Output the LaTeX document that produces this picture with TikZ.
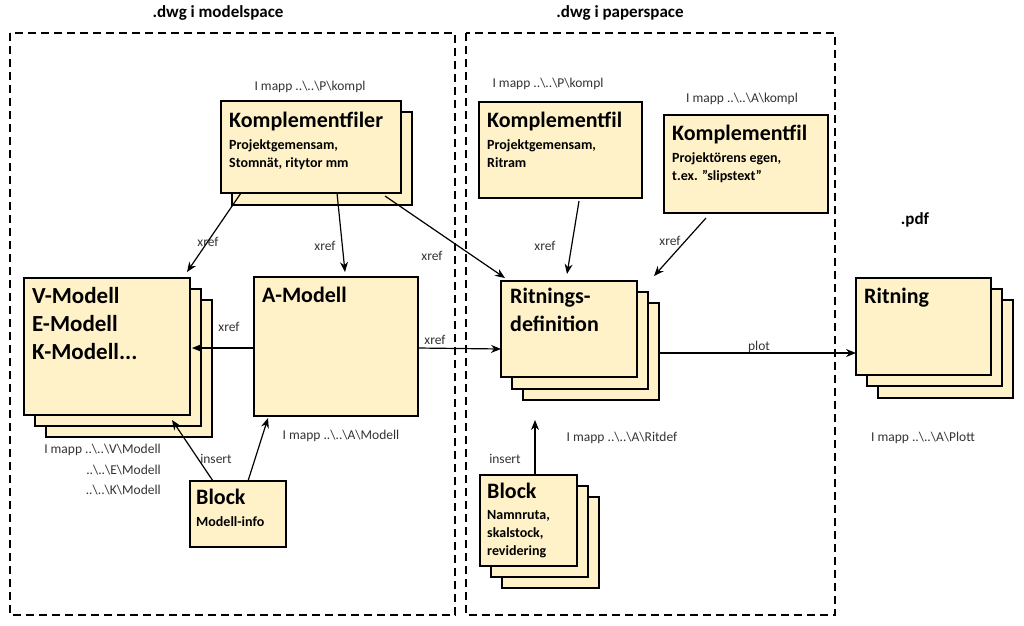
\documentclass[tikz,border=0pt]{standalone}
\usepackage{fontspec}
\setmainfont{Carlito}
\usetikzlibrary{arrows.meta}
\definecolor{fillc}{HTML}{FFF2C8}
\begin{document}
\begin{tikzpicture}[x=1pt,y=-1pt,
  box/.style={draw=black,line width=2pt,fill=fillc},
  frame/.style={draw=black,line width=1.8pt,dash pattern=on 8pt off 5pt},
  arr/.style={-{Stealth[length=10pt,width=8pt]},line width=1.2pt},
  lab/.style={font=\fontsize{13.5}{15}\selectfont,text=black!80},
  ttl/.style={font=\bfseries\fontsize{22}{26}\selectfont,anchor=north west,align=left,inner sep=0pt},
  sub/.style={font=\bfseries\fontsize{14}{18}\selectfont,anchor=north west,align=left,inner sep=0pt}]
\useasboundingbox (0,0) rectangle (1024,625);
\draw[frame] (10,33) rectangle (455,615);
\draw[frame] (466,33) rectangle (835,615);
\node[font=\bfseries\fontsize{17}{20}\selectfont] (t1) at (218,13) {.dwg i modelspace};
\node[font=\bfseries\fontsize{17}{20}\selectfont] (t2) at (620,13) {.dwg i paperspace};
\node[font=\bfseries\fontsize{17}{20}\selectfont] (t3) at (915,220) {.pdf};
% Komplementfiler
\draw[box] (232,112) rectangle (412,205);
\draw[box] (221,101) rectangle (401,193);
\coordinate (kfa) at (241,193); \coordinate (kfb) at (337,193); \coordinate (kfc) at (385,196);
\node[ttl] (kft) at (229,112) {Komplementfiler};
\node[sub] (kfs) at (229,139) {Projektgemensam,\\Stomnät, ritytor mm};
% V modell
\draw[box] (46,300) rectangle (212,437);
\draw[box] (35,289) rectangle (201,426);
\draw[box] (24,278) rectangle (190,415);
\node[ttl,font=\bfseries\fontsize{23}{28}\selectfont] (vm) at (32,287) {V-Modell\\E-Modell\\K-Modell...};
\coordinate (vtop) at (187,272); \coordinate (vr) at (192,348); \coordinate (vb) at (172,420);
% A modell
\draw[box] (254,277) rectangle (418,416);
\node[ttl] (am) at (262,287) {A-Modell};
\coordinate (al) at (254,348); \coordinate (ar) at (418,348); \coordinate (ab) at (268,418); \coordinate (atop) at (345,272);
% Ritningsdefinition
\draw[box] (523,303) rectangle (659,400);
\draw[box] (512,292) rectangle (648,389);
\draw[box] (501,281) rectangle (637,377);
\node[ttl,font=\bfseries\fontsize{22}{28}\selectfont] (rd) at (510,288) {Ritnings-\\definition};
\coordinate (rtop) at (505,278); \coordinate (rl) at (501,349); \coordinate (rt1) at (567,274); \coordinate (rt2) at (654,276); \coordinate (rr) at (659,353); \coordinate (rb) at (535,420);
% Komplementfil 1,2
\draw[box] (479,102) rectangle (642,198);
\node[ttl] (k1) at (487,112) {Komplementfil};
\node[sub] (k1s) at (487,139) {Projektgemensam,\\Ritram};
\coordinate (k1b) at (579,201);
\draw[box] (664,115) rectangle (828,213);
\node[ttl] (k2) at (672,125) {Komplementfil};
\node[sub] (k2s) at (672,152) {Projektörens egen,\\t.ex. ”slipstext”};
\coordinate (k2b) at (706,218);
% Ritning
\draw[box] (878,300) rectangle (1013,398);
\draw[box] (867,289) rectangle (1002,386);
\draw[box] (856,278) rectangle (991,375);
\node[ttl] (rn) at (864,288) {Ritning};
\coordinate (rnl) at (856,353);
% Blocks
\draw[box] (190,481) rectangle (286,547);
\node[ttl] (b1) at (196,489) {Block};
\node[sub] (b1s) at (196,516) {Modell-info};
\coordinate (b1a) at (213,481); \coordinate (b1b) at (248,481);
\draw[box] (502,497) rectangle (599,588);
\draw[box] (491,486) rectangle (588,577);
\draw[box] (480,475) rectangle (577,566);
\node[ttl] (b2) at (487,483) {Block};
\node[sub] (b2s) at (487,510) {Namnruta,\\skalstock,\\revidering};
\coordinate (b2t) at (535,475);
% arrows
\draw[arr] (kfa) -- (vtop);
\draw[arr] (kfb) -- (atop);
\draw[arr] (kfc) -- (rtop);
\draw[arr] (al) -- (vr);
\draw[arr] (ar) -- (rl);
\draw[arr] (k1b) -- (rt1);
\draw[arr] (k2b) -- (rt2);
\draw[arr] (rr) -- (rnl);
\draw[arr] (b1a) -- (vb);
\draw[arr] (b1b) -- (ab);
\draw[arr] (b2t) -- (rb);
% labels
\node[lab] (x1) at (208,242) {xref};
\node[lab] (x2) at (325,246) {xref};
\node[lab] (x3) at (432,256) {xref};
\node[lab] (x4) at (229,327) {xref};
\node[lab] (x5) at (435,340) {xref};
\node[lab] (x6) at (545,246) {xref};
\node[lab] (x7) at (670,241) {xref};
\node[lab] (pl) at (759,347) {plot};
\node[lab] (i1) at (216,459) {insert};
\node[lab] (i2) at (505,459) {insert};
\node[lab] (m1) at (310,87) {I mapp ..\textbackslash..\textbackslash P\textbackslash kompl};
\node[lab] (m2) at (548,84) {I mapp ..\textbackslash..\textbackslash P\textbackslash kompl};
\node[lab] (m3) at (742,99) {I mapp ..\textbackslash..\textbackslash A\textbackslash kompl};
\node[lab] (m4) at (341,436) {I mapp ..\textbackslash..\textbackslash A\textbackslash Modell};
\node[lab] (m5) at (622,438) {I mapp ..\textbackslash..\textbackslash A\textbackslash Ritdef};
\node[lab] (m6) at (923,438) {I mapp ..\textbackslash..\textbackslash A\textbackslash Plott};
\node[lab,align=right,anchor=north east,inner sep=0pt,font=\fontsize{13.5}{20.5}\selectfont] (m7) at (161,444) {I mapp ..\textbackslash..\textbackslash V\textbackslash Modell\\..\textbackslash..\textbackslash E\textbackslash Modell\\..\textbackslash..\textbackslash K\textbackslash Modell};
\end{tikzpicture}
\end{document}
